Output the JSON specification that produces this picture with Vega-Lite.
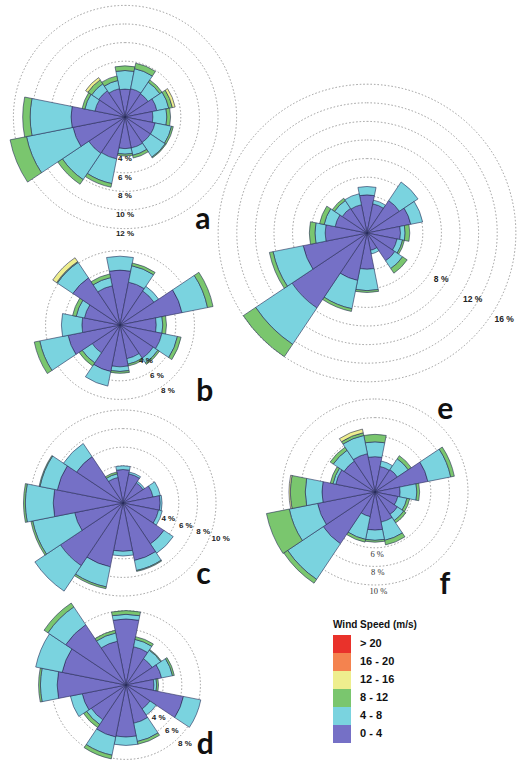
{
  "$schema": "https://vega.github.io/schema/vega-lite/v6.json",
  "padding": 0,
  "background": "white",
  "bounds": "flush",
  "spacing": 252,
  "config": {"view": {"stroke": null}},
  "datasets": {
    "rose": [
      {"p":"a","d":0,"s1":3.0,"s2":2.0,"s3":0.5},
      {"p":"a","d":22.5,"s1":3.1,"s2":2.2,"s3":0.6},
      {"p":"a","d":45,"s1":3.0,"s2":1.5,"s3":0.3},
      {"p":"a","d":67.5,"s1":3.5,"s2":1.3,"s3":0.4,"s4":0.3},
      {"p":"a","d":90,"s1":3.0,"s2":1.5,"s3":0.4},
      {"p":"a","d":112.5,"s1":3.3,"s2":1.8,"s3":0.2},
      {"p":"a","d":135,"s1":3.3,"s2":1.9,"s3":0.1},
      {"p":"a","d":157.5,"s1":3.4,"s2":0.8,"s3":0.3},
      {"p":"a","d":180,"s1":3.4,"s2":0.6,"s3":0.2},
      {"p":"a","d":202.5,"s1":4.6,"s2":2.7,"s3":0.4},
      {"p":"a","d":225,"s1":4.7,"s2":3.4,"s3":0.6},
      {"p":"a","d":247.5,"s1":5.7,"s2":5.1,"s3":1.8},
      {"p":"a","d":270,"s1":5.8,"s2":4.4,"s3":0.8},
      {"p":"a","d":292.5,"s1":3.3,"s2":1.1,"s3":0.3},
      {"p":"a","d":315,"s1":3.4,"s2":0.9,"s3":0.5,"s4":0.3},
      {"p":"a","d":337.5,"s1":3.1,"s2":0.9,"s3":0.5},

      {"p":"b","d":0,"s1":5.9,"s2":1.5},
      {"p":"b","d":22.5,"s1":4.7,"s2":1.8,"s3":0.3},
      {"p":"b","d":45,"s1":4.4,"s2":0.6},
      {"p":"b","d":67.5,"s1":6.8,"s2":2.8,"s3":0.6},
      {"p":"b","d":90,"s1":3.9,"s2":0.7,"s3":0.4},
      {"p":"b","d":112.5,"s1":4.6,"s2":1.7,"s3":0.4},
      {"p":"b","d":135,"s1":4.3,"s2":0.6,"s3":0.2},
      {"p":"b","d":157.5,"s1":3.7,"s2":0.6,"s3":0.2},
      {"p":"b","d":180,"s1":4.5,"s2":0.5,"s3":0.2},
      {"p":"b","d":202.5,"s1":5.1,"s2":1.6},
      {"p":"b","d":225,"s1":3.6,"s2":1.3,"s3":0.4},
      {"p":"b","d":247.5,"s1":5.7,"s2":3.1,"s3":0.6},
      {"p":"b","d":270,"s1":4.1,"s2":2.2},
      {"p":"b","d":292.5,"s1":3.9,"s2":0.9,"s3":0.4},
      {"p":"b","d":315,"s1":6.1,"s2":2.0,"s3":0.1,"s4":0.5},
      {"p":"b","d":337.5,"s1":4.3,"s2":0.9,"s3":0.4},

      {"p":"c","d":0,"s1":3.6,"s2":0.4},
      {"p":"c","d":22.5,"s1":3.2,"s2":0.2},
      {"p":"c","d":45,"s1":2.6,"s2":0.2},
      {"p":"c","d":67.5,"s1":3.3,"s2":0.8},
      {"p":"c","d":90,"s1":4.0,"s2":0.2},
      {"p":"c","d":112.5,"s1":3.9,"s2":0.4},
      {"p":"c","d":135,"s1":5.3,"s2":1.2},
      {"p":"c","d":157.5,"s1":6.3,"s2":1.1,"s3":0.1},
      {"p":"c","d":180,"s1":5.2,"s2":0.5},
      {"p":"c","d":202.5,"s1":7.0,"s2":2.2,"s3":0.2},
      {"p":"c","d":225,"s1":8.1,"s2":3.3},
      {"p":"c","d":247.5,"s1":5.3,"s2":4.6,"s3":0.2},
      {"p":"c","d":270,"s1":7.5,"s2":3.0,"s3":0.2},
      {"p":"c","d":292.5,"s1":7.2,"s2":1.9,"s3":0.1},
      {"p":"c","d":315,"s1":6.0,"s2":1.7},
      {"p":"c","d":337.5,"s1":2.8,"s2":0.4,"s3":0.2},

      {"p":"d","d":0,"s1":7.1,"s2":0.5,"s3":0.4},
      {"p":"d","d":22.5,"s1":4.2,"s2":0.8,"s3":0.3},
      {"p":"d","d":45,"s1":3.4,"s2":1.1,"s3":0.1},
      {"p":"d","d":67.5,"s1":3.9,"s2":1.2,"s3":0.2},
      {"p":"d","d":90,"s1":3.0,"s2":0.3,"s3":0.2},
      {"p":"d","d":112.5,"s1":6.3,"s2":1.9},
      {"p":"d","d":135,"s1":3.1,"s2":0.8},
      {"p":"d","d":157.5,"s1":4.2,"s2":2.0,"s3":0.3},
      {"p":"d","d":180,"s1":5.6,"s2":0.9},
      {"p":"d","d":202.5,"s1":5.7,"s2":2.0,"s3":0.4},
      {"p":"d","d":225,"s1":4.5,"s2":0.6,"s3":0.4},
      {"p":"d","d":247.5,"s1":4.8,"s2":1.3},
      {"p":"d","d":270,"s1":7.4,"s2":1.8,"s3":0.2},
      {"p":"d","d":292.5,"s1":7.0,"s2":2.9},
      {"p":"d","d":315,"s1":7.8,"s2":2.3,"s3":0.5},
      {"p":"d","d":337.5,"s1":4.8,"s2":0.9,"s3":0.3},

      {"p":"e","d":0,"s1":4.1,"s2":0.9},
      {"p":"e","d":22.5,"s1":3.2,"s2":0.4},
      {"p":"e","d":45,"s1":4.2,"s2":2.4},
      {"p":"e","d":67.5,"s1":4.8,"s2":1.3},
      {"p":"e","d":90,"s1":3.6,"s2":0.5,"s3":0.5},
      {"p":"e","d":112.5,"s1":3.3,"s2":0.6,"s3":0.2},
      {"p":"e","d":135,"s1":3.6,"s2":1.0,"s3":0.6},
      {"p":"e","d":157.5,"s1":1.9,"s2":0.4},
      {"p":"e","d":180,"s1":3.9,"s2":2.3,"s3":0.2},
      {"p":"e","d":202.5,"s1":5.2,"s2":3.1,"s3":0.3},
      {"p":"e","d":225,"s1":9.7,"s2":4.7,"s3":1.6},
      {"p":"e","d":247.5,"s1":7.0,"s2":3.3,"s3":0.4},
      {"p":"e","d":270,"s1":4.5,"s2":1.1,"s3":0.6},
      {"p":"e","d":292.5,"s1":3.5,"s2":1.2,"s3":0.5},
      {"p":"e","d":315,"s1":3.2,"s2":1.0,"s3":0.3},
      {"p":"e","d":337.5,"s1":3.1,"s2":1.2},

      {"p":"f","d":0,"s1":3.8,"s2":1.6,"s3":0.8},
      {"p":"f","d":22.5,"s1":2.8,"s2":0.6},
      {"p":"f","d":45,"s1":2.9,"s2":1.4,"s3":0.4},
      {"p":"f","d":67.5,"s1":5.8,"s2":2.5,"s3":0.4},
      {"p":"f","d":90,"s1":2.7,"s2":1.8,"s3":0.3},
      {"p":"f","d":112.5,"s1":2.5,"s2":1.0,"s3":0.3},
      {"p":"f","d":135,"s1":2.9,"s2":0.8,"s3":0.3},
      {"p":"f","d":157.5,"s1":3.3,"s2":2.0,"s3":0.5},
      {"p":"f","d":180,"s1":4.1,"s2":1.1,"s3":0.2},
      {"p":"f","d":202.5,"s1":2.7,"s2":2.5,"s3":0.3},
      {"p":"f","d":225,"s1":6.7,"s2":4.6,"s3":0.5},
      {"p":"f","d":247.5,"s1":6.3,"s2":3.1,"s3":2.5},
      {"p":"f","d":270,"s1":5.7,"s2":1.8,"s3":1.6,"s4":0.15},
      {"p":"f","d":292.5,"s1":4.3,"s2":0.3,"s3":0.3},
      {"p":"f","d":315,"s1":4.0,"s2":1.4,"s3":0.4},
      {"p":"f","d":337.5,"s1":4.2,"s2":2.0,"s3":0.3,"s4":0.4}
    ],
    "rings": [
      {"p":"a","r":4,"t":"4 %"},{"p":"a","r":6,"t":"6 %"},{"p":"a","r":8,"t":"8 %"},{"p":"a","r":10,"t":"10 %"},{"p":"a","r":12,"t":"12 %"},
      {"p":"b","r":4,"t":"4 %"},{"p":"b","r":6,"t":"6 %"},{"p":"b","r":8,"t":"8 %"},
      {"p":"c","r":4,"t":"4 %"},{"p":"c","r":6,"t":"6 %"},{"p":"c","r":8,"t":"8 %"},{"p":"c","r":10,"t":"10 %"},
      {"p":"d","r":4,"t":"4 %"},{"p":"d","r":6,"t":"6 %"},{"p":"d","r":8,"t":"8 %"},
      {"p":"e","r":4},{"p":"e","r":6},{"p":"e","r":8,"t":"8 %"},{"p":"e","r":10},{"p":"e","r":12,"t":"12 %"},{"p":"e","r":14},{"p":"e","r":16,"t":"16 %"},
      {"p":"f","r":4},{"p":"f","r":6,"t":"6 %"},{"p":"f","r":8,"t":"8 %"},{"p":"f","r":10,"t":"10 %"}
    ]
  },
  "hconcat": [
    {
      "vconcat": [
        {
          "width": 250, "height": 234,
          "layer": [
            {"data": {"name": "rings"}, "transform": [{"filter": "datum.p == 'a'"}],
             "mark": {"type": "arc", "fill": null, "stroke": "#9a9a9a", "strokeWidth": 1, "strokeDash": [1.5, 2]},
             "encoding": {"theta": {"datum": 0, "type": "quantitative", "stack": null, "scale": {"domain": [0, 360], "range": [0, 6.2832]}}, "theta2": {"datum": 360}, "radius": {"field": "r", "type": "quantitative", "stack": null, "scale": {"type": "linear", "domain": [0, 20], "range": [0, 186]}}}},
            {"data": {"name": "rose"}, "transform": [{"filter": "datum.p == 'a'"}, {"fold": ["s1", "s2", "s3", "s4"], "as": ["k", "v"]}, {"filter": "datum.v > 0"}, {"stack": "v", "groupby": ["d"], "sort": [{"field": "k"}], "as": ["r0", "r1"]}],
             "mark": {"type": "arc", "thetaOffset": -0.19635, "theta2Offset": 0.19635, "stroke": "#262b58", "strokeWidth": 0.6},
             "encoding": {"theta": {"field": "d", "type": "quantitative", "stack": null}, "theta2": {"field": "d"}, "radius": {"field": "r1", "type": "quantitative", "stack": null}, "radius2": {"field": "r0"},
               "color": {"field": "k", "type": "nominal", "scale": {"domain": ["s6", "s5", "s4", "s3", "s2", "s1"], "range": ["#e9322b", "#f4834f", "#eeee8e", "#7ac66e", "#7ad3df", "#7570c6"]},
                 "legend": {"title": "Wind Speed (m/s)", "orient": "none", "legendX": 333, "legendY": 620, "titleFont": "Liberation Sans", "titleFontSize": 10, "titleFontWeight": "bold", "titleColor": "#111", "titlePadding": 5, "labelFont": "Liberation Sans", "labelFontSize": 11, "labelFontWeight": "bold", "labelColor": "#111", "labelOffset": 9, "symbolType": "square", "symbolSize": 324, "symbolStrokeWidth": 0, "rowPadding": 0,
                   "labelExpr": "datum.label == 's6' ? '> 20' : datum.label == 's5' ? '16 - 20' : datum.label == 's4' ? '12 - 16' : datum.label == 's3' ? '8 - 12' : datum.label == 's2' ? '4 - 8' : '0 - 4'"}}}},
            {"data": {"name": "rings"}, "transform": [{"filter": "datum.p == 'a' && datum.t"}],
             "mark": {"type": "text", "radiusOffset": 5, "font": "Liberation Sans", "fontSize": 8, "fontWeight": "bold", "color": "#222"},
             "encoding": {"theta": {"datum": 180}, "radius": {"field": "r", "type": "quantitative", "stack": null}, "text": {"field": "t"}}},
            {"data": {"values": [{"label": "a"}]},
             "mark": {"type": "text", "font": "Lato", "fontSize": 30, "fontWeight": "bold", "color": "#111"},
             "encoding": {"theta": {"datum": 142.9}, "radius": {"datum": 13.9}, "text": {"field": "label"}}}
          ]
        },
        {
          "width": 240, "height": 142,
          "layer": [
            {"data": {"name": "rings"}, "transform": [{"filter": "datum.p == 'b'"}],
             "mark": {"type": "arc", "fill": null, "stroke": "#9a9a9a", "strokeWidth": 1, "strokeDash": [1.5, 2]},
             "encoding": {"theta": {"datum": 0, "type": "quantitative", "stack": null, "scale": {"domain": [0, 360], "range": [0, 6.2832]}}, "theta2": {"datum": 360}, "radius": {"field": "r", "type": "quantitative", "stack": null, "scale": {"type": "linear", "domain": [0, 20], "range": [0, 186]}}}},
            {"data": {"name": "rose"}, "transform": [{"filter": "datum.p == 'b'"}, {"fold": ["s1", "s2", "s3", "s4"], "as": ["k", "v"]}, {"filter": "datum.v > 0"}, {"stack": "v", "groupby": ["d"], "sort": [{"field": "k"}], "as": ["r0", "r1"]}],
             "mark": {"type": "arc", "thetaOffset": -0.19635, "theta2Offset": 0.19635, "stroke": "#262b58", "strokeWidth": 0.6},
             "encoding": {"theta": {"field": "d", "type": "quantitative", "stack": null}, "theta2": {"field": "d"}, "radius": {"field": "r1", "type": "quantitative", "stack": null}, "radius2": {"field": "r0"},
               "color": {"field": "k", "type": "nominal"}}},
            {"data": {"name": "rings"}, "transform": [{"filter": "datum.p == 'b' && datum.t"}],
             "mark": {"type": "text", "radiusOffset": 7, "font": "Liberation Sans", "fontSize": 8, "fontWeight": "bold", "color": "#222"},
             "encoding": {"theta": {"datum": 144}, "radius": {"field": "r", "type": "quantitative", "stack": null}, "text": {"field": "t"}}},
            {"data": {"values": [{"label": "b"}]},
             "mark": {"type": "text", "font": "Lato", "fontSize": 30, "fontWeight": "bold", "color": "#111"},
             "encoding": {"theta": {"datum": 128.3}, "radius": {"datum": 11.6}, "text": {"field": "label"}}}
          ]
        },
        {
          "width": 246, "height": 174,
          "layer": [
            {"data": {"name": "rings"}, "transform": [{"filter": "datum.p == 'c'"}],
             "mark": {"type": "arc", "fill": null, "stroke": "#9a9a9a", "strokeWidth": 1, "strokeDash": [1.5, 2]},
             "encoding": {"theta": {"datum": 0, "type": "quantitative", "stack": null, "scale": {"domain": [0, 360], "range": [0, 6.2832]}}, "theta2": {"datum": 360}, "radius": {"field": "r", "type": "quantitative", "stack": null, "scale": {"type": "linear", "domain": [0, 20], "range": [0, 186]}}}},
            {"data": {"name": "rose"}, "transform": [{"filter": "datum.p == 'c'"}, {"fold": ["s1", "s2", "s3", "s4"], "as": ["k", "v"]}, {"filter": "datum.v > 0"}, {"stack": "v", "groupby": ["d"], "sort": [{"field": "k"}], "as": ["r0", "r1"]}],
             "mark": {"type": "arc", "thetaOffset": -0.19635, "theta2Offset": 0.19635, "stroke": "#262b58", "strokeWidth": 0.6},
             "encoding": {"theta": {"field": "d", "type": "quantitative", "stack": null}, "theta2": {"field": "d"}, "radius": {"field": "r1", "type": "quantitative", "stack": null}, "radius2": {"field": "r0"},
               "color": {"field": "k", "type": "nominal"}}},
            {"data": {"name": "rings"}, "transform": [{"filter": "datum.p == 'c' && datum.t"}],
             "mark": {"type": "text", "radiusOffset": 11, "font": "Liberation Sans", "fontSize": 8, "fontWeight": "bold", "color": "#222"},
             "encoding": {"theta": {"datum": 110}, "radius": {"field": "r", "type": "quantitative", "stack": null}, "text": {"field": "t"}}},
            {"data": {"values": [{"label": "c"}]},
             "mark": {"type": "text", "font": "Lato", "fontSize": 30, "fontWeight": "bold", "color": "#111"},
             "encoding": {"theta": {"datum": 131.8}, "radius": {"datum": 11.6}, "text": {"field": "label"}}}
          ]
        },
        {
          "width": 252, "height": 150,
          "layer": [
            {"data": {"name": "rings"}, "transform": [{"filter": "datum.p == 'd'"}],
             "mark": {"type": "arc", "fill": null, "stroke": "#9a9a9a", "strokeWidth": 1, "strokeDash": [1.5, 2]},
             "encoding": {"theta": {"datum": 0, "type": "quantitative", "stack": null, "scale": {"domain": [0, 360], "range": [0, 6.2832]}}, "theta2": {"datum": 360}, "radius": {"field": "r", "type": "quantitative", "stack": null, "scale": {"type": "linear", "domain": [0, 20], "range": [0, 186]}}}},
            {"data": {"name": "rose"}, "transform": [{"filter": "datum.p == 'd'"}, {"fold": ["s1", "s2", "s3", "s4"], "as": ["k", "v"]}, {"filter": "datum.v > 0"}, {"stack": "v", "groupby": ["d"], "sort": [{"field": "k"}], "as": ["r0", "r1"]}],
             "mark": {"type": "arc", "thetaOffset": -0.19635, "theta2Offset": 0.19635, "stroke": "#262b58", "strokeWidth": 0.6},
             "encoding": {"theta": {"field": "d", "type": "quantitative", "stack": null}, "theta2": {"field": "d"}, "radius": {"field": "r1", "type": "quantitative", "stack": null}, "radius2": {"field": "r0"},
               "color": {"field": "k", "type": "nominal"}}},
            {"data": {"name": "rings"}, "transform": [{"filter": "datum.p == 'd' && datum.t"}],
             "mark": {"type": "text", "radiusOffset": 9, "font": "Liberation Sans", "fontSize": 8, "fontWeight": "bold", "color": "#222"},
             "encoding": {"theta": {"datum": 135}, "radius": {"field": "r", "type": "quantitative", "stack": null}, "text": {"field": "t"}}},
            {"data": {"values": [{"label": "d"}]},
             "mark": {"type": "text", "font": "Lato", "fontSize": 30, "fontWeight": "bold", "color": "#111"},
             "encoding": {"theta": {"datum": 127.1}, "radius": {"datum": 10.7}, "text": {"field": "label"}}}
          ]
        }
      ],
      "spacing": 20,
      "bounds": "flush"
    },
    {
      "vconcat": [
        {
          "width": 230, "height": 466,
          "layer": [
            {"data": {"name": "rings"}, "transform": [{"filter": "datum.p == 'e'"}],
             "mark": {"type": "arc", "fill": null, "stroke": "#9a9a9a", "strokeWidth": 1, "strokeDash": [1.5, 2]},
             "encoding": {"theta": {"datum": 0, "type": "quantitative", "stack": null, "scale": {"domain": [0, 360], "range": [0, 6.2832]}}, "theta2": {"datum": 360}, "radius": {"field": "r", "type": "quantitative", "stack": null, "scale": {"type": "linear", "domain": [0, 20], "range": [0, 186]}}}},
            {"data": {"name": "rose"}, "transform": [{"filter": "datum.p == 'e'"}, {"fold": ["s1", "s2", "s3", "s4"], "as": ["k", "v"]}, {"filter": "datum.v > 0"}, {"stack": "v", "groupby": ["d"], "sort": [{"field": "k"}], "as": ["r0", "r1"]}],
             "mark": {"type": "arc", "thetaOffset": -0.19635, "theta2Offset": 0.19635, "stroke": "#262b58", "strokeWidth": 0.6},
             "encoding": {"theta": {"field": "d", "type": "quantitative", "stack": null}, "theta2": {"field": "d"}, "radius": {"field": "r1", "type": "quantitative", "stack": null}, "radius2": {"field": "r0"},
               "color": {"field": "k", "type": "nominal"}}},
            {"data": {"name": "rings"}, "transform": [{"filter": "datum.p == 'e' && datum.t"}],
             "mark": {"type": "text", "radiusOffset": 13, "font": "Liberation Sans", "fontSize": 8.5, "fontWeight": "bold", "color": "#222"},
             "encoding": {"theta": {"datum": 122}, "radius": {"field": "r", "type": "quantitative", "stack": null}, "text": {"field": "t"}}},
            {"data": {"values": [{"label": "e"}]},
             "mark": {"type": "text", "font": "Lato", "fontSize": 30, "fontWeight": "bold", "color": "#111"},
             "encoding": {"theta": {"datum": 156.1}, "radius": {"datum": 20.8}, "text": {"field": "label"}}}
          ]
        },
        {
          "width": 246, "height": 52,
          "layer": [
            {"data": {"name": "rings"}, "transform": [{"filter": "datum.p == 'f'"}],
             "mark": {"type": "arc", "fill": null, "stroke": "#9a9a9a", "strokeWidth": 1, "strokeDash": [1.5, 2]},
             "encoding": {"theta": {"datum": 0, "type": "quantitative", "stack": null, "scale": {"domain": [0, 360], "range": [0, 6.2832]}}, "theta2": {"datum": 360}, "radius": {"field": "r", "type": "quantitative", "stack": null, "scale": {"type": "linear", "domain": [0, 20], "range": [0, 186]}}}},
            {"data": {"name": "rose"}, "transform": [{"filter": "datum.p == 'f'"}, {"fold": ["s1", "s2", "s3", "s4"], "as": ["k", "v"]}, {"filter": "datum.v > 0"}, {"stack": "v", "groupby": ["d"], "sort": [{"field": "k"}], "as": ["r0", "r1"]}],
             "mark": {"type": "arc", "thetaOffset": -0.19635, "theta2Offset": 0.19635, "stroke": "#262b58", "strokeWidth": 0.6},
             "encoding": {"theta": {"field": "d", "type": "quantitative", "stack": null}, "theta2": {"field": "d"}, "radius": {"field": "r1", "type": "quantitative", "stack": null}, "radius2": {"field": "r0"},
               "color": {"field": "k", "type": "nominal"}}},
            {"data": {"name": "rings"}, "transform": [{"filter": "datum.p == 'f' && datum.t"}],
             "mark": {"type": "text", "radiusOffset": 6, "font": "Liberation Serif", "fontSize": 8.5, "color": "#333"},
             "encoding": {"theta": {"datum": 178}, "radius": {"field": "r", "type": "quantitative", "stack": null}, "text": {"field": "t"}}},
            {"data": {"values": [{"label": "f"}]},
             "mark": {"type": "text", "font": "Lato", "fontSize": 30, "fontWeight": "bold", "color": "#111"},
             "encoding": {"theta": {"datum": 143.1}, "radius": {"datum": 12.5}, "text": {"field": "label"}}}
          ]
        }
      ],
      "spacing": 0,
      "bounds": "flush"
    }
  ]
}
